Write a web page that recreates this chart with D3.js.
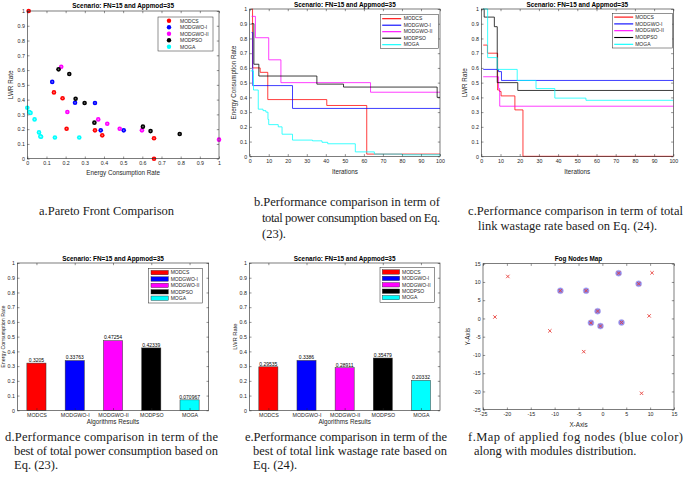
<!DOCTYPE html>
<html><head><meta charset="utf-8">
<script src="https://cdn.jsdelivr.net/npm/d3@7"></script>
<style>body{margin:0;background:#fff}svg{display:block}</style>
</head><body><svg id="c" width="685" height="477"></svg>
<script>
// ---------- DATA ----------
const algorithms = ["MODCS","MODGWO-I","MODGWO-II","MODPSO","MOGA"];
const algColors = ["#ff0000","#0000ff","#ff00ff","#000000","#00ffff"];
const titleText = "Scenario: FN=15 and Appmod=35";
const unitTicks = [0,0.1,0.2,0.3,0.4,0.5,0.6,0.7,0.8,0.9,1];
const iterTicks = [0,10,20,30,40,50,60,70,80,90,100];
const mapTicks = [-25,-20,-15,-10,-5,0,5,10,15];

// (a) Pareto fronts: [energy consumption rate, LWR rate]
const paretoMODCS = [[0.007,1.0],[0.139,0.449],[0.184,0.409],[0.205,0.203],[0.353,0.192],[0.391,0.158],[0.661,0.138],[0.661,0.0]];
const paretoMODGWO1 = [[0.13,0.52],[0.249,0.379],[0.353,0.377],[0.383,0.192],[0.503,0.192]];
const paretoMODGWO2 = [[0.177,0.623],[0.209,0.316],[0.37,0.266],[0.417,0.237],[0.482,0.203],[0.598,0.192],[1.0,0.129]];
const paretoMODPSO = [[0.163,0.605],[0.219,0.573],[0.252,0.406],[0.299,0.377],[0.35,0.244],[0.603,0.217],[0.643,0.187],[0.795,0.167]];
const paretoMOGA = [[0,0.345],[0.01,0.316],[0.017,0.31],[0.038,0.266],[0.061,0.178],[0.068,0.151],[0.072,0.149],[0.144,0.144],[0.271,0.144]];

// (b) energy consumption convergence: [iteration, value] breakpoints (step after)
const energyMODCS = [[1,1.0],[1.5,0.6],[5.5,0.57],[9.5,0.385],[40.5,0.345],[61.5,0.015],[100,0.015]];
const energyMODGWO1 = [[1,0.84],[1.6,0.48],[22.5,0.325],[100,0.325]];
const energyMODGWO2 = [[1,0.95],[3,0.805],[10,0.655],[16.4,0.5],[63.5,0.435],[100,0.435]];
const energyMODPSO = [[1,0.9],[2.2,0.625],[4.8,0.545],[35.3,0.49],[49.3,0.47],[98.5,0.4],[100,0.4]];
const energyMOGA = [[0.5,0.58],[2,0.45],[4.5,0.32],[7,0.31],[8.5,0.3],[9.6,0.25],[10,0.215],[15,0.2],[17,0.15],[22.5,0.11],[33,0.105],[38,0.095],[41,0.085],[55.5,0.03],[65.5,0.015],[80,0.01],[100,0.005]];

// (c) LWR convergence
const lwrMODCS = [[1,0.755],[3.2,0.70],[8.5,0.45],[9.5,0.44],[10.3,0.41],[17.5,0.315],[21.7,0],[100,0]];
const lwrMODGWO1 = [[1,0.59],[9,0.575],[10.5,0.515],[100,0.515]];
const lwrMODGWO2 = [[1,0.54],[9,0.46],[9.6,0.34],[100,0.34]];
const lwrMODPSO = [[1,1.0],[1.5,0.945],[6.8,0.88],[8.3,0.5],[19,0.447],[100,0.447]];
const lwrMOGA = [[1,1.0],[3.3,0.67],[8.3,0.59],[18.7,0.515],[28.5,0.46],[38.3,0.395],[54.5,0.38],[100,0.38]];

// (d) best energy consumption, (e) best LWR
const bestEnergy = [0.3205,0.33763,0.47254,0.42339,0.070967];
const bestEnergyLabels = ["0.3205","0.33763","0.47254","0.42339","0.070967"];
const bestLWR = [0.29535,0.3386,0.28911,0.35479,0.20332];
const bestLWRLabels = ["0.29535","0.3386","0.28911","0.35479","0.20332"];

// (f) fog nodes map
const moduleX = [-22.5,-19.8,-11.0,-3.9,8.2,9.8,10.4,-8.8,-3.4,-1.0,-2.4,-0.4,4.0,3.4,7.6];
const moduleY = [0.4,11.5,-3.4,-9.1,-20.5,0.7,12.5,7.6,7.6,2.0,-1.2,-2.1,-1.1,12.4,9.5];
const fogX = [-8.8,-3.4,-1.0,-2.4,-0.4,4.0,3.4,7.6];
const fogY = [7.6,7.6,2.0,-1.2,-2.1,-1.1,12.4,9.5];

// ---------- DRAWING ----------
const svg = d3.select("#c");
const SANS = "'Liberation Sans', Arial, sans-serif";
const SERIF = "'Liberation Serif', 'Times New Roman', serif";
const AX = "#262626";

function axes(o) {
  const g = svg.append("g");
  const x = o.x, y = o.y;
  const [L, R] = x.range(), [B, T] = y.range();
  g.append("rect").attr("x", L).attr("y", T).attr("width", R - L).attr("height", B - T).attr("fill", "#fff");
  const content = svg.append("g");
  const ax = svg.append("g");
  const style = s => {
    s.select(".domain").remove();
    s.selectAll(".tick line").attr("stroke", AX).attr("stroke-width", 0.5);
    s.selectAll(".tick text").attr("fill", AX).attr("font-size", 5.3).attr("font-family", SANS);
  };
  ax.append("g").attr("transform", `translate(0,${B})`)
    .call(d3.axisBottom(x).tickValues(o.xt).tickFormat(o.xf || (d => String(d))).tickSize(-2.2).tickPadding(2.8)).call(style);
  ax.append("g").attr("transform", `translate(0,${T})`)
    .call(d3.axisTop(x).tickValues(o.xt).tickFormat("").tickSize(-2.2)).call(style);
  ax.append("g").attr("transform", `translate(${L},0)`)
    .call(d3.axisLeft(y).tickValues(o.yt).tickFormat(o.yf || (d => String(d))).tickSize(-2.2).tickPadding(2.4)).call(style);
  ax.append("g").attr("transform", `translate(${R},0)`)
    .call(d3.axisRight(y).tickValues(o.yt).tickFormat("").tickSize(-2.2)).call(style);
  ax.append("rect").attr("x", L).attr("y", T).attr("width", R - L).attr("height", B - T)
    .attr("fill", "none").attr("stroke", AX).attr("stroke-width", 0.6);
  ax.append("text").attr("x", (L + R) / 2).attr("y", T - o.titleOff).attr("text-anchor", "middle")
    .attr("font-family", SANS).attr("font-weight", "bold").attr("font-size", 6.4).attr("fill", "#000").text(o.title);
  ax.append("text").attr("x", (L + R) / 2).attr("y", o.xlY).attr("text-anchor", "middle")
    .attr("font-family", SANS).attr("font-size", 6.3).attr("fill", AX).text(o.xl);
  ax.append("text").attr("transform", `translate(${o.ylX},${(T + B) / 2}) rotate(-90)`).attr("text-anchor", "middle")
    .attr("dy", "0.35em").attr("font-family", SANS).attr("font-size", o.ylSize || 6.3).attr("fill", AX).text(o.yl);
  return { content, ax };
}

function legend(g, o) {
  const lg = g.append("g");
  lg.append("rect").attr("x", o.x).attr("y", o.y).attr("width", o.w).attr("height", o.h)
    .attr("fill", "#fff").attr("stroke", AX).attr("stroke-width", 0.5);
  algorithms.forEach((name, i) => {
    const cy = o.y + o.rowY0 + i * o.rowStep;
    if (o.kind === "dot") {
      lg.append("circle").attr("cx", o.x + o.symX).attr("cy", cy).attr("r", 2.2).attr("fill", algColors[i]);
    } else if (o.kind === "line") {
      lg.append("line").attr("x1", o.x + o.symX).attr("x2", o.x + o.symX + o.symW).attr("y1", cy).attr("y2", cy)
        .attr("stroke", algColors[i]).attr("stroke-width", 1.1);
    } else {
      lg.append("rect").attr("x", o.x + o.symX).attr("y", cy - 2.2).attr("width", o.symW).attr("height", 4.4)
        .attr("fill", algColors[i]).attr("stroke", AX).attr("stroke-width", 0.4);
    }
    lg.append("text").attr("x", o.x + o.textX).attr("y", cy).attr("dy", "0.35em")
      .attr("font-family", SANS).attr("font-size", 5).attr("fill", AX).text(name);
  });
}

// (a) Pareto front scatter
{
  const x = d3.scaleLinear().domain([0, 1]).range([27.3, 219]);
  const y = d3.scaleLinear().domain([0, 1]).range([158.7, 11]);
  const { content, ax } = axes({ x, y, xt: unitTicks, yt: unitTicks, title: titleText, titleOff: 3,
    xl: "Energy Consumption Rate", xlY: 175, yl: "LWR Rate", ylX: 11 });
  const sets = [paretoMODCS, paretoMODGWO1, paretoMODGWO2, paretoMODPSO, paretoMOGA];
  sets.forEach((pts, i) => {
    content.selectAll(null).data(pts).join("circle")
      .attr("cx", d => x(d[0])).attr("cy", d => y(d[1])).attr("r", 2.3).attr("fill", algColors[i]);
    content.selectAll(null).data(pts).join("circle")
      .attr("cx", d => x(d[0])).attr("cy", d => y(d[1])).attr("r", 0.8).attr("fill", "#fff").attr("opacity", 0.45);
  });
  legend(ax, { x: 158, y: 17, w: 55, h: 34, rowY0: 3.8, rowStep: 6.5, kind: "dot", symX: 11, textX: 22 });
}

function lineAxes(o, sets) {
  const x = d3.scaleLinear().domain([0, 100]).range([o.L, o.R]);
  const y = d3.scaleLinear().domain([0, 1]).range([o.B, o.T]);
  const { content, ax } = axes({ x, y, xt: iterTicks, yt: unitTicks, title: titleText, titleOff: 1.6,
    xl: "Iterations", xlY: 173.5, yl: o.yl, ylX: o.ylX });
  const line = d3.line().x(d => x(d[0])).y(d => y(d[1])).curve(d3.curveStepAfter);
  sets.forEach((pts, i) => {
    content.append("path").attr("d", line(pts)).attr("fill", "none").attr("stroke", algColors[i])
      .attr("stroke-width", 0.9).attr("opacity", 0.85);
  });
  legend(ax, o.leg);
}
// (b)
lineAxes({ L: 249.7, R: 440, T: 9, B: 156.3, yl: "Energy Consumption Rate", ylX: 233.5,
  leg: { x: 380.7, y: 14.7, w: 58, h: 34, rowY0: 4, rowStep: 6.5, kind: "line", symX: 1.5, symW: 19, textX: 23 } },
  [energyMODCS, energyMODGWO1, energyMODGWO2, energyMODPSO, energyMOGA]);
// (c)
lineAxes({ L: 481.3, R: 673.3, T: 9, B: 156.3, yl: "LWR Rate", ylX: 464.5,
  leg: { x: 612.7, y: 13.3, w: 59.6, h: 34.7, rowY0: 3.8, rowStep: 6.8, kind: "line", symX: 1.5, symW: 19, textX: 22.5 } },
  [lwrMODCS, lwrMODGWO1, lwrMODGWO2, lwrMODPSO, lwrMOGA]);

function barAxes(o, vals, labels) {
  const x = d3.scaleLinear().domain([0.5, 5.5]).range([o.L, o.R]);
  const y = d3.scaleLinear().domain([0, 1]).range([o.B, o.T]);
  const { content, ax } = axes({ x, y, xt: [1, 2, 3, 4, 5], xf: d => algorithms[d - 1], yt: unitTicks,
    title: titleText, titleOff: 2.5, xl: "Algorithms Results", xlY: 423.5, yl: o.yl, ylX: o.ylX, ylSize: o.ylSize });
  const bw = x(1.25) - x(0.75);
  vals.forEach((v, i) => {
    content.append("rect").attr("x", x(i + 1) - bw / 2).attr("y", y(v)).attr("width", bw).attr("height", y(0) - y(v))
      .attr("fill", algColors[i]).attr("stroke", "#333").attr("stroke-width", 0.5);
    content.append("text").attr("x", x(i + 1)).attr("y", y(v) - 1.2).attr("text-anchor", "middle")
      .attr("font-family", SANS).attr("font-size", 5).attr("fill", "#000").text(labels[i]);
  });
  legend(ax, o.leg);
}
// (d)
barAxes({ L: 17.3, R: 208.7, T: 263, B: 410.3, yl: "Energy Consumption Rate", ylX: 3, ylSize: 5.3,
  leg: { x: 148.7, y: 268.3, w: 54, h: 34.7, rowY0: 4.3, rowStep: 6.4, kind: "rect", symX: 2.3, symW: 17.3, textX: 22 } },
  bestEnergy, bestEnergyLabels);
// (e)
barAxes({ L: 249.3, R: 440, T: 263, B: 410.3, yl: "LWR Rate", ylX: 234.5, ylSize: 5.8,
  leg: { x: 380, y: 267.7, w: 54.7, h: 34.6, rowY0: 4.3, rowStep: 6.4, kind: "rect", symX: 2.3, symW: 17.3, textX: 22 } },
  bestLWR, bestLWRLabels);

// (f) fog nodes map
{
  const x = d3.scaleLinear().domain([-25, 15]).range([483, 674]);
  const y = d3.scaleLinear().domain([-25, 15]).range([409.7, 263.7]);
  const { content } = axes({ x, y, xt: mapTicks, yt: mapTicks, title: "Fog Nodes Map", titleOff: 2.3,
    xl: "X-Axis", xlY: 426.5, yl: "Y-Axis", ylX: 468 });
  const fog = d3.range(fogX.length).map(i => [fogX[i], fogY[i]]);
  content.selectAll(null).data(fog).join("circle")
    .attr("cx", d => x(d[0])).attr("cy", d => y(d[1])).attr("r", 3)
    .attr("fill", "#8a84e8").attr("stroke", "#b9b5f3").attr("stroke-width", 0.6);
  const mods = d3.range(moduleX.length).map(i => [moduleX[i], moduleY[i]]);
  const s = 1.7;
  content.selectAll(null).data(mods).join("path")
    .attr("d", d => { const cx = x(d[0]), cy = y(d[1]);
      return `M${cx - s},${cy - s}L${cx + s},${cy + s}M${cx - s},${cy + s}L${cx + s},${cy - s}`; })
    .attr("stroke", "#e8413c").attr("stroke-width", 0.9).attr("fill", "none");
}

// ---------- CAPTIONS ----------
function caption(x, y, text, len) {
  const t = svg.append("text").attr("x", x).attr("y", y).attr("font-family", SERIF).attr("font-size", 12.5)
    .attr("fill", "#1a1a1a").text(text);
  if (len) t.attr("textLength", len).attr("lengthAdjust", "spacing");
}
caption(39, 215, "a.Pareto Front Comparison");
caption(254, 206, "b.Performance comparison in term of", 186);
caption(262, 222, "total power consumption based on Eq.", 178);
caption(262, 238, "(23).");
caption(468, 215, "c.Performance comparison in term of total", 215);
caption(478, 230, "link wastage rate based on Eq. (24).");
caption(5, 441, "d.Performance comparison in term of the", 213);
caption(14, 455, "best of total power consumption based on", 204);
caption(14, 469, "Eq. (23).");
caption(245, 441, "e.Performance comparison in term of the", 202);
caption(253, 455, "best of total link wastage rate based on", 194);
caption(253, 469, "Eq. (24).");
caption(468, 441, "f.Map of applied fog nodes (blue color)", 215);
caption(474, 455, "along with modules distribution.");
</script></body></html>
